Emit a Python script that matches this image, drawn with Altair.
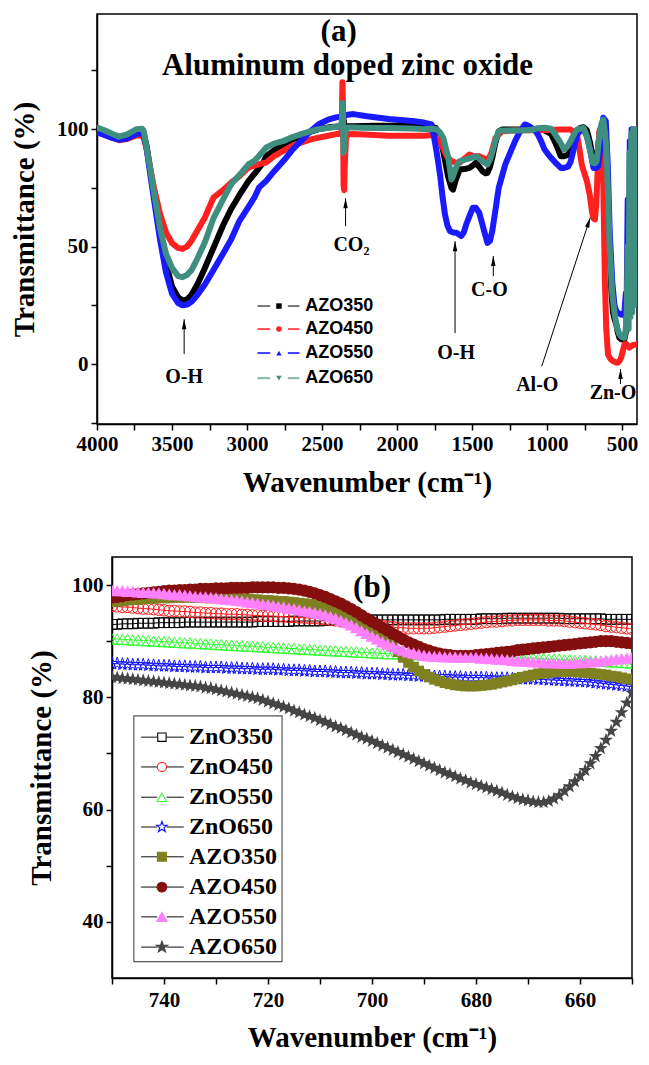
import altair as alt
import pandas as pd

SERIF = "Liberation Serif"
SANS = "Liberation Sans"

# ---------------- Panel (a): (wavenumber cm-1, transmittance %) ----------------
azo350_a = [(4000, 99.5), (3950, 98.5), (3900, 97.5), (3853, 96.5), (3800, 97.3), (3750, 98.5), (3710, 99.3),
            (3690, 98.5), (3670, 93), (3650, 85), (3620, 73), (3580, 57), (3540, 43), (3500, 33), (3460, 28.5),
            (3430, 27), (3400, 27.5), (3370, 29.5), (3330, 34), (3280, 41), (3220, 50), (3160, 59), (3106, 66),
            (3050, 72), (2989, 78), (2950, 81), (2919, 83.5), (2890, 86), (2872, 88.5), (2820, 91), (2755, 93.6),
            (2700, 95.5), (2639, 97.2), (2580, 98.8), (2522, 100), (2450, 100.8), (2380, 101.2), (2360, 101.5),
            (2355, 104), (2350, 101), (2345, 96), (2340, 100), (2330, 101.2), (2291, 101.2), (2150, 101.4),
            (2056, 101.4), (1900, 101.6), (1821, 101.8), (1770, 101), (1741, 100.5), (1715, 97), (1690, 90),
            (1660, 80), (1637, 75), (1626, 74.3), (1610, 78), (1582, 82.8), (1550, 83), (1517, 83.5), (1495, 84.5),
            (1474, 85.7), (1452, 84), (1430, 82.1), (1410, 81.2), (1397, 81.4), (1380, 84), (1365, 87.8), (1345, 94),
            (1322, 99), (1300, 99.8), (1200, 99.8), (1100, 99.8), (1061, 100.2), (1017, 99.5), (973, 98), (950, 95),
            (930, 92), (908, 88.5), (886, 88.5), (860, 89), (843, 91), (820, 95), (800, 99.5), (778, 100.5),
            (756, 100.8), (734, 99.5), (712, 94), (690, 86.4), (669, 86), (658, 93), (647, 99.1), (635, 101.5),
            (625, 102), (614, 99), (604, 90), (593, 70), (582, 49.4), (570, 30), (560, 22), (549, 19), (538, 16.9),
            (528, 13.5), (517, 11.2), (506, 10.6), (495, 10.5), (484, 10.5), (473, 14), (462, 21), (455, 45),
            (450, 26), (445, 52), (440, 30), (435, 58), (430, 35), (425, 62), (420, 40), (415, 60), (410, 38),
            (405, 55), (400, 42)]
azo450_a = [(4000, 99), (3950, 97.5), (3900, 96.5), (3853, 95.3), (3800, 95.8), (3750, 97), (3710, 97.5),
            (3690, 96.5), (3670, 92), (3650, 85), (3620, 75), (3580, 64), (3540, 56), (3500, 51.5), (3460, 49.5),
            (3430, 49), (3400, 50), (3370, 52.5), (3330, 57), (3280, 62.5), (3224, 70.8), (3160, 74), (3106, 77.2),
            (3050, 80), (2989, 83.7), (2950, 84.5), (2919, 85.1), (2872, 85.8), (2820, 88.5), (2755, 90.8),
            (2700, 92.8), (2639, 94.3), (2580, 95.5), (2522, 96.4), (2450, 97.3), (2406, 97.9), (2375, 98),
            (2368, 100), (2364, 120), (2360, 110), (2356, 76), (2352, 74), (2348, 85), (2340, 96), (2330, 97.8),
            (2291, 97.9), (2150, 97.5), (2056, 97.2), (1900, 97.2), (1821, 97.2), (1770, 97.5), (1735, 96.2),
            (1700, 93), (1669, 88.5), (1637, 86.4), (1610, 85.8), (1582, 85.7), (1550, 87.5), (1517, 89.2),
            (1490, 88.5), (1452, 88.5), (1420, 87.5), (1397, 86.4), (1370, 90), (1343, 96.2), (1300, 99.1),
            (1200, 99.5), (1100, 99.5), (1000, 99.6), (900, 99.8), (843, 99.8), (800, 97.7), (785, 92), (768, 84.9),
            (750, 81), (734, 77.9), (715, 72), (701, 65.2), (690, 62), (680, 61.6), (672, 68), (665, 77.9),
            (658, 92), (651, 99.1), (640, 100.5), (632, 99), (625, 77.9), (614, 35.4), (605, 15), (593, 4.1),
            (575, 2), (560, 1.3), (545, 0.8), (528, 0.6), (515, 1.5), (506, 2.7), (495, 5.5), (484, 8.4),
            (470, 8.5), (451, 7), (430, 8), (404, 8.4), (400, 8.5)]
azo550_a = [(4000, 98.6), (3950, 97.5), (3900, 96.3), (3853, 95.5), (3800, 96), (3736, 97.9), (3700, 98.2),
            (3689, 97.5), (3670, 92), (3650, 83), (3620, 70), (3580, 53), (3540, 39), (3500, 30), (3460, 26),
            (3430, 25), (3400, 25.3), (3370, 26.5), (3330, 29.5), (3280, 34), (3224, 40), (3160, 47), (3106, 53),
            (3050, 61), (2989, 67), (2950, 71), (2919, 75.2), (2872, 78), (2820, 82), (2755, 86.6), (2700, 91),
            (2639, 95), (2580, 99), (2522, 102.1), (2460, 104), (2406, 105), (2364, 105.5), (2340, 106),
            (2291, 106.4), (2200, 105.5), (2056, 104.3), (1900, 103.5), (1821, 102.8), (1770, 102), (1756, 97.7),
            (1735, 90), (1713, 80.6), (1696, 71), (1680, 63.6), (1664, 59), (1647, 56.6), (1625, 56), (1604, 55.9),
            (1572, 54.5), (1555, 56), (1539, 59.4), (1517, 63), (1495, 66.5), (1474, 66.5), (1452, 64.4),
            (1435, 60.5), (1419, 56.6), (1397, 51.6), (1380, 52.5), (1365, 56.6), (1345, 65), (1322, 75), (1300, 80),
            (1278, 85), (1245, 90), (1213, 94.9), (1180, 99), (1148, 102), (1126, 101.5), (1104, 100.6),
            (1080, 99.5), (1061, 97.7), (1040, 95), (1017, 91.4), (995, 89.5), (973, 87.8), (940, 85.5),
            (908, 83.5), (886, 83.5), (860, 84), (843, 86), (820, 92), (800, 97.5), (778, 99.5), (756, 99.8),
            (734, 97), (712, 91), (690, 83.5), (670, 83.5), (658, 84.2), (640, 95), (625, 104.8), (608, 103.4),
            (595, 85), (582, 56.5), (565, 35), (550, 25), (538, 22.5), (520, 21.5), (506, 21.1), (495, 21),
            (484, 22), (475, 30), (470, 18), (462, 70), (455, 20), (448, 95), (442, 25), (436, 100), (430, 30),
            (424, 100), (418, 40), (412, 98), (406, 45), (400, 96)]
azo650_a = [(4000, 100.7), (3950, 99.5), (3900, 98), (3853, 96.8), (3800, 97.8), (3736, 100), (3700, 100.2),
            (3689, 99.3), (3666, 90.8), (3650, 85), (3620, 73), (3580, 58), (3540, 47), (3500, 41), (3460, 37.5),
            (3430, 37), (3400, 38), (3370, 40), (3330, 45), (3280, 52), (3224, 62), (3160, 70), (3106, 76.5),
            (3050, 80.5), (2989, 85.1), (2950, 86.5), (2919, 88.7), (2872, 92.2), (2820, 93.8), (2755, 95),
            (2700, 96.5), (2639, 97.9), (2580, 99), (2522, 100), (2450, 100.6), (2406, 101), (2375, 101.2),
            (2368, 103), (2364, 111), (2360, 106), (2356, 90), (2352, 92), (2345, 99), (2330, 100.7), (2291, 100.7),
            (2150, 100.5), (2056, 100.5), (1900, 100.3), (1821, 100), (1770, 100.2), (1735, 100), (1713, 98.5),
            (1691, 96.2), (1675, 92), (1658, 87.8), (1637, 78.6), (1626, 80), (1615, 82.1), (1600, 84.5),
            (1582, 86.4), (1560, 86.8), (1539, 87.1), (1506, 87.8), (1474, 88.5), (1452, 87.5), (1430, 86.4),
            (1410, 85.5), (1397, 85), (1380, 87), (1365, 90), (1345, 95), (1322, 99.1), (1300, 99.4), (1200, 99.4),
            (1104, 99.6), (1061, 100.4), (1017, 100.6), (973, 100.2), (950, 98.2), (930, 96.2), (908, 94),
            (886, 91.3), (865, 92.5), (843, 94.9), (820, 97.8), (800, 99.8), (778, 100.2), (756, 100.5), (740, 98),
            (723, 94.2), (710, 90), (695, 85.7), (680, 85.5), (669, 86.4), (658, 93), (647, 99.1), (636, 102.5),
            (625, 104.1), (614, 99), (604, 92), (593, 72), (582, 49.4), (565, 30), (549, 21.1), (533, 15.5),
            (517, 12.6), (500, 11.5), (484, 11.2), (475, 15), (469, 21), (462, 50), (456, 15), (450, 90), (444, 20),
            (438, 98), (432, 22), (426, 100), (420, 25), (414, 100), (408, 30), (402, 98), (400, 60)]

a_names = ["AZO350", "AZO450", "AZO550", "AZO650"]
a_colors = ["#000000", "#FF2020", "#1A1AFF", "#3F8F80"]
a_leg_line_colors = ["#777777", "#FF5050", "#4040FF", "#7FB5AA"]
a_leg_shapes = ["square", "circle", "triangle-up", "triangle-down"]
# legend anchor positions (data units of panel a)
a_leg_rows_t = [24.7, 14.9, 4.7, -6.0]
a_leg_seg1 = (2930, 2845)
a_leg_seg2 = (2728, 2650)
a_leg_marker_w = 2787
a_leg_text_w = 2611

a_label_text = ["O-H", "CO₂", "O-H", "C-O", "Al-O", "Zn-O"]
a_label_w = [3419, 2304, 1606, 1384, 1065, 560]
a_label_t = [-5.5, 50.6, 4.7, 31.5, -9.0, -12.4]
a_arrow_w1 = [3419, 2343, 1613, 1358, 1035, 510]
a_arrow_t1 = [4.3, 58.7, 13.2, 37.4, -0.9, -8.5]
a_arrow_w2 = [3419, 2343, 1613, 1358, 712, 510]
a_arrow_t2 = [19.1, 70.6, 52.3, 46.0, 62.3, -2.1]
a_arrow_angle = [0, 0, 0, 0, 18, 0]
a_title_text = ["(a)", "Aluminum doped zinc oxide"]
a_title_w = [2389, 2330]
a_title_t = [141.2, 127.0]
a_x_ticks = [4000, 3750, 3500, 3250, 3000, 2750, 2500, 2250, 2000, 1750, 1500, 1250, 1000, 750, 500]
a_y_ticks = [-25, 0, 25, 50, 75, 100, 125]

# ---------------- Panel (b): 750 -> 650 cm-1, one value per cm-1 ----------------
b_wavenumber = list(range(750, 649, -1))
zno350_b = [93.0, 93.0, 93.1, 93.1, 93.1, 93.2, 93.2, 93.2, 93.2, 93.3, 93.3,
            93.3, 93.3, 93.3, 93.4, 93.4, 93.4, 93.4, 93.4, 93.4, 93.4,
            93.4, 93.4, 93.4, 93.4, 93.4, 93.4, 93.4, 93.5, 93.5, 93.5,
            93.5, 93.5, 93.5, 93.5, 93.6, 93.6, 93.6, 93.6, 93.6, 93.6,
            93.7, 93.7, 93.7, 93.7, 93.7, 93.7, 93.7, 93.7, 93.8, 93.8,
            93.8, 93.8, 93.8, 93.8, 93.8, 93.8, 93.8, 93.8, 93.8, 93.8,
            93.8, 93.8, 93.8, 93.9, 93.9, 93.9, 93.9, 93.9, 93.9, 93.9,
            94.0, 94.0, 94.0, 94.0, 94.0, 94.1, 94.1, 94.1, 94.1, 94.1,
            94.1, 94.1, 94.1, 94.1, 94.1, 94.1, 94.0, 94.0, 94.0, 94.0,
            94.0, 94.0, 94.0, 94.0, 93.9, 93.9, 93.9, 93.9, 93.9, 93.9]
zno450_b = [96.3, 96.2, 96.1, 96.1, 96.0, 95.9, 95.8, 95.8, 95.7, 95.6, 95.5,
            95.4, 95.4, 95.3, 95.3, 95.2, 95.1, 95.1, 95.0, 95.0, 94.9,
            94.9, 94.8, 94.8, 94.8, 94.7, 94.7, 94.6, 94.6, 94.5, 94.5,
            94.5, 94.4, 94.4, 94.3, 94.3, 94.2, 94.2, 94.1, 94.1, 94.0,
            93.9, 93.8, 93.7, 93.6, 93.5, 93.4, 93.3, 93.2, 93.0, 92.9,
            92.8, 92.7, 92.6, 92.5, 92.4, 92.4, 92.3, 92.3, 92.3, 92.3,
            92.3, 92.4, 92.5, 92.6, 92.7, 92.8, 92.9, 93.0, 93.1, 93.2,
            93.3, 93.4, 93.5, 93.5, 93.6, 93.7, 93.7, 93.8, 93.8, 93.8,
            93.8, 93.8, 93.8, 93.7, 93.7, 93.7, 93.6, 93.5, 93.4, 93.3,
            93.2, 93.1, 93.0, 92.9, 92.7, 92.6, 92.5, 92.4, 92.3, 92.2]
zno550_b = [90.4, 90.4, 90.3, 90.3, 90.2, 90.2, 90.1, 90.1, 90.0, 90.0, 89.9,
            89.9, 89.8, 89.8, 89.7, 89.7, 89.6, 89.6, 89.5, 89.5, 89.4,
            89.4, 89.3, 89.3, 89.2, 89.2, 89.1, 89.1, 89.0, 89.0, 88.9,
            88.9, 88.8, 88.8, 88.7, 88.7, 88.6, 88.6, 88.5, 88.5, 88.4,
            88.4, 88.3, 88.3, 88.2, 88.2, 88.1, 88.1, 88.0, 88.0, 87.9,
            87.9, 87.8, 87.8, 87.8, 87.7, 87.7, 87.7, 87.6, 87.6, 87.6,
            87.6, 87.5, 87.5, 87.5, 87.5, 87.4, 87.4, 87.4, 87.4, 87.3,
            87.3, 87.3, 87.2, 87.2, 87.2, 87.1, 87.1, 87.1, 87.0, 87.0,
            87.0, 86.9, 86.9, 86.8, 86.8, 86.8, 86.7, 86.7, 86.6, 86.6,
            86.6, 86.5, 86.5, 86.4, 86.4, 86.3, 86.3, 86.2, 86.2, 86.1]
zno650_b = [86.0, 86.0, 85.9, 85.9, 85.8, 85.8, 85.8, 85.7, 85.7, 85.6, 85.6,
            85.6, 85.5, 85.5, 85.5, 85.4, 85.4, 85.4, 85.3, 85.3, 85.3,
            85.3, 85.2, 85.2, 85.2, 85.1, 85.1, 85.1, 85.0, 85.0, 85.0,
            85.0, 84.9, 84.9, 84.8, 84.8, 84.8, 84.7, 84.7, 84.6, 84.6,
            84.6, 84.5, 84.5, 84.4, 84.4, 84.4, 84.3, 84.3, 84.2, 84.2,
            84.2, 84.1, 84.1, 84.0, 84.0, 84.0, 83.9, 83.9, 83.8, 83.8,
            83.8, 83.7, 83.7, 83.7, 83.6, 83.6, 83.6, 83.5, 83.5, 83.5,
            83.5, 83.5, 83.4, 83.4, 83.4, 83.4, 83.3, 83.3, 83.3, 83.3,
            83.3, 83.2, 83.2, 83.1, 83.1, 83.0, 83.0, 82.9, 82.9, 82.8,
            82.8, 82.7, 82.6, 82.5, 82.4, 82.3, 82.2, 82.1, 82.0, 81.9]
azo350_b = [97.0, 97.1, 97.2, 97.3, 97.4, 97.4, 97.5, 97.6, 97.6, 97.7, 97.7,
            97.7, 97.8, 97.8, 97.8, 97.8, 97.8, 97.8, 97.7, 97.7, 97.7,
            97.7, 97.6, 97.6, 97.6, 97.5, 97.5, 97.4, 97.4, 97.3, 97.3,
            97.2, 97.1, 97.1, 97.0, 96.9, 96.8, 96.7, 96.6, 96.4, 96.2,
            96.0, 95.7, 95.4, 95.0, 94.6, 94.1, 93.6, 93.1, 92.6, 92.1,
            91.5, 90.8, 90.0, 89.1, 88.1, 87.1, 86.2, 85.4, 84.7, 84.1,
            83.6, 83.2, 82.9, 82.6, 82.4, 82.2, 82.1, 82.0, 82.0, 82.0,
            82.1, 82.2, 82.3, 82.5, 82.7, 82.9, 83.1, 83.4, 83.6, 83.8,
            84.0, 84.2, 84.3, 84.4, 84.5, 84.6, 84.6, 84.6, 84.6, 84.5,
            84.4, 84.3, 84.2, 84.1, 84.0, 83.8, 83.7, 83.5, 83.3, 83.2]
azo450_b = [97.8, 97.9, 98.0, 98.2, 98.3, 98.4, 98.5, 98.6, 98.7, 98.8, 98.9,
            99.0, 99.0, 99.1, 99.1, 99.2, 99.2, 99.3, 99.3, 99.3, 99.4,
            99.4, 99.4, 99.5, 99.5, 99.5, 99.5, 99.6, 99.6, 99.6, 99.6,
            99.6, 99.5, 99.5, 99.4, 99.3, 99.2, 99.0, 98.8, 98.5, 98.2,
            97.9, 97.5, 97.1, 96.7, 96.2, 95.7, 95.2, 94.6, 94.0, 93.5,
            93.0, 92.4, 91.9, 91.3, 90.8, 90.3, 89.8, 89.4, 89.0, 88.6,
            88.3, 88.0, 87.8, 87.6, 87.5, 87.4, 87.4, 87.4, 87.4, 87.5,
            87.6, 87.7, 87.8, 87.9, 88.0, 88.1, 88.2, 88.4, 88.5, 88.6,
            88.7, 88.8, 88.9, 89.0, 89.1, 89.2, 89.3, 89.4, 89.5, 89.6,
            89.7, 89.8, 89.9, 90.0, 90.0, 90.0, 89.9, 89.8, 89.7, 89.6]
azo550_b = [99.1, 99.0, 99.0, 98.9, 98.9, 98.8, 98.7, 98.7, 98.6, 98.6, 98.5,
            98.4, 98.3, 98.3, 98.2, 98.1, 98.0, 97.9, 97.9, 97.8, 97.7,
            97.6, 97.5, 97.4, 97.3, 97.2, 97.0, 96.9, 96.8, 96.6, 96.5,
            96.4, 96.2, 96.1, 95.9, 95.8, 95.6, 95.4, 95.3, 95.1, 94.9,
            94.7, 94.4, 94.1, 93.7, 93.3, 92.9, 92.4, 91.9, 91.4, 90.9,
            90.4, 89.9, 89.5, 89.1, 88.7, 88.4, 88.1, 87.9, 87.7, 87.5,
            87.4, 87.3, 87.3, 87.2, 87.2, 87.2, 87.1, 87.1, 87.1, 87.1,
            87.0, 87.0, 86.9, 86.8, 86.8, 86.7, 86.6, 86.5, 86.5, 86.4,
            86.3, 86.3, 86.2, 86.2, 86.2, 86.1, 86.1, 86.1, 86.2, 86.2,
            86.3, 86.3, 86.4, 86.5, 86.6, 86.7, 86.8, 86.9, 87.0, 87.1]
azo650_b = [83.6, 83.5, 83.4, 83.3, 83.2, 83.1, 83.0, 82.9, 82.8, 82.7, 82.6,
            82.5, 82.4, 82.3, 82.2, 82.1, 82.0, 81.9, 81.7, 81.6, 81.4,
            81.2, 81.0, 80.8, 80.6, 80.4, 80.2, 80.0, 79.8, 79.5, 79.2,
            78.9, 78.6, 78.3, 78.0, 77.6, 77.3, 76.9, 76.6, 76.3, 75.9,
            75.6, 75.2, 74.8, 74.5, 74.1, 73.7, 73.3, 72.9, 72.6, 72.2,
            71.8, 71.4, 71.0, 70.6, 70.2, 69.8, 69.4, 69.0, 68.6, 68.2,
            67.8, 67.4, 67.0, 66.6, 66.3, 65.9, 65.5, 65.2, 64.8, 64.5,
            64.2, 63.9, 63.6, 63.3, 63.0, 62.6, 62.3, 62.0, 61.8, 61.6,
            61.4, 61.3, 61.3, 61.5, 61.9, 62.5, 63.3, 64.1, 65.0, 66.0,
            67.0, 68.2, 69.5, 70.9, 72.4, 74.0, 75.6, 77.3, 79.0, 80.8]

# five-pointed star as an SVG path (Vega has no built-in star symbol)
STAR = "M0,-1.15L0.27,-0.37L1.09,-0.36L0.44,0.14L0.68,0.93L0,0.46L-0.68,0.93L-0.44,0.14L-1.09,-0.36L-0.27,-0.37Z"
HEAD = "M0,0L-0.9,4L0.9,4Z"

b_names = ["ZnO350", "ZnO450", "ZnO550", "ZnO650", "AZO350", "AZO450", "AZO550", "AZO650"]
b_values = [zno350_b, zno450_b, zno550_b, zno650_b, azo350_b, azo450_b, azo550_b, azo650_b]
b_colors = ["#000000", "#FF2020", "#33FF33", "#1010FF", "#7F8020", "#850F0F", "#FF80FF", "#454545"]
b_shapes = ["square", "circle", "triangle-up", STAR, "square", "circle", "triangle-up", STAR]
b_filled = [False, False, False, False, True, True, True, True]
b_sizes = [95, 130, 140, 130, 110, 150, 170, 160]
b_leg_sizes = [70, 85, 95, 95, 80, 95, 110, 110]
b_x_ticks = [750, 740, 730, 720, 710, 700, 690, 680, 670, 660, 650]
b_y_ticks = [40, 50, 60, 70, 80, 90, 100]
# legend anchor positions (data units of panel b)
b_leg_box = (745.8, 717.3, 76.7, 32.9)
b_leg_rows_t = [72.9, 67.6, 62.2, 56.9, 51.6, 46.2, 40.9, 35.5]
b_leg_seg1 = (744.4, 741.3)
b_leg_seg2 = (739.5, 736.2)
b_leg_marker_w = 740.4
b_leg_text_w = 735.2

# ---------------- panel (a) ----------------
xa = alt.Scale(domain=[400, 4000], reverse=True, nice=False, zero=False)
ya = alt.Scale(domain=[-25.5, 149], nice=False, zero=False)
ax_xa = alt.Axis(title="Wavenumber (cm⁻¹)", values=a_x_ticks, format="d", tickSize=6,
                 labelExpr="datum.value % 500 === 0 ? datum.label : ''",
                 labelPadding=3, titlePadding=14)
ax_ya = alt.Axis(title="Transmittance (%)", values=a_y_ticks, format="d", tickSize=6,
                 labelExpr="datum.value % 50 === 0 ? datum.label : ''",
                 labelPadding=3, titlePadding=17)


def XA(f):
    return alt.X(f, scale=xa, axis=ax_xa)


def YA(f):
    return alt.Y(f, scale=ya, axis=ax_ya)


layers_a = []
for pairs, col in zip([azo350_a, azo450_a, azo550_a, azo650_a], a_colors):
    df = pd.DataFrame(pairs, columns=["w", "T"])
    df["i"] = range(len(df))
    layers_a.append(
        alt.Chart(df).mark_line(color=col, strokeWidth=6, strokeJoin="round", strokeCap="round", clip=True)
        .encode(x=XA("w:Q"), y=YA("T:Q"), order="i:Q"))

arr_df = pd.DataFrame({"w1": a_arrow_w1, "t1": a_arrow_t1, "w2": a_arrow_w2, "t2": a_arrow_t2,
                       "ang": a_arrow_angle})
layers_a.append(alt.Chart(arr_df).mark_rule(color="black", strokeWidth=1)
                .encode(x=XA("w1:Q"), y=YA("t1:Q"), x2="w2:Q", y2="t2:Q"))
layers_a.append(alt.Chart(arr_df).mark_point(shape=HEAD, filled=True, size=25, color="black", opacity=1)
                .encode(x=XA("w2:Q"), y=YA("t2:Q"), angle=alt.Angle("ang:Q", scale=None)))
lab_df = pd.DataFrame({"w": a_label_w, "T": a_label_t, "text": a_label_text})
layers_a.append(alt.Chart(lab_df).mark_text(font=SERIF, fontWeight="bold", fontSize=20, color="black")
                .encode(x=XA("w:Q"), y=YA("T:Q"), text="text:N"))
tit_df = pd.DataFrame({"w": a_title_w, "T": a_title_t, "text": a_title_text})
layers_a.append(alt.Chart(tit_df).mark_text(font=SERIF, fontWeight="bold", fontSize=31, color="black")
                .encode(x=XA("w:Q"), y=YA("T:Q"), text="text:N"))

# legend of panel (a), drawn as marks
seg_rows = []
for t, c in zip(a_leg_rows_t, a_leg_line_colors):
    seg_rows.append({"w1": a_leg_seg1[0], "w2": a_leg_seg1[1], "T": t, "c": c})
    seg_rows.append({"w1": a_leg_seg2[0], "w2": a_leg_seg2[1], "T": t, "c": c})
la_seg = pd.DataFrame(seg_rows)
layers_a.append(alt.Chart(la_seg).mark_rule(strokeWidth=2)
                .encode(x=XA("w1:Q"), x2="w2:Q", y=YA("T:Q"), color=alt.Color("c:N", scale=None)))
la_mk = pd.DataFrame({"w": [a_leg_marker_w] * 4, "T": a_leg_rows_t, "c": a_colors, "s": a_leg_shapes})
layers_a.append(alt.Chart(la_mk).mark_point(filled=True, size=30, opacity=1)
                .encode(x=XA("w:Q"), y=YA("T:Q"), color=alt.Color("c:N", scale=None),
                        shape=alt.Shape("s:N", scale=None)))
la_tx = pd.DataFrame({"w": [a_leg_text_w] * 4, "T": a_leg_rows_t, "name": a_names})
layers_a.append(alt.Chart(la_tx).mark_text(font=SANS, fontWeight="bold", fontSize=18, color="black",
                                           align="left", baseline="middle")
                .encode(x=XA("w:Q"), y=YA("T:Q"), text="name:N"))

chart_a = alt.layer(*layers_a).properties(width=540, height=410)

# ---------------- panel (b) ----------------
xb = alt.Scale(domain=[650, 750], reverse=True, nice=False, zero=False)
yb = alt.Scale(domain=[30, 105], nice=False, zero=False)
ax_xb = alt.Axis(title="Wavenumber (cm⁻¹)", values=b_x_ticks, format="d", tickSize=6,
                 labelExpr="datum.value % 20 === 0 ? datum.label : ''",
                 labelPadding=5, titlePadding=13)
ax_yb = alt.Axis(title="Transmittance (%)", values=b_y_ticks, format="d", tickSize=6,
                 labelExpr="datum.value % 20 === 0 ? datum.label : ''",
                 labelPadding=3, titlePadding=15)


def XB(f):
    return alt.X(f, scale=xb, axis=ax_xb)


def YB(f):
    return alt.Y(f, scale=yb, axis=ax_yb)


layers_b = []
for vals, col, shp, fil, sz in zip(b_values, b_colors, b_shapes, b_filled, b_sizes):
    df = pd.DataFrame({"w": b_wavenumber, "T": vals})
    base = alt.Chart(df).encode(x=XB("w:Q"), y=YB("T:Q"))
    layers_b.append(base.mark_line(color=col, strokeWidth=1, clip=True))
    layers_b.append(base.mark_point(shape=shp, filled=fil, size=sz, color=col, opacity=1,
                                    strokeWidth=1, clip=True))

btit_df = pd.DataFrame({"w": [700], "T": [99.5], "text": ["(b)"]})
layers_b.append(alt.Chart(btit_df).mark_text(font=SERIF, fontWeight="bold", fontSize=31, color="black")
                .encode(x=XB("w:Q"), y=YB("T:Q"), text="text:N"))

# legend of panel (b), drawn as marks
box_df = pd.DataFrame({"w1": [b_leg_box[0]], "w2": [b_leg_box[1]], "t1": [b_leg_box[2]], "t2": [b_leg_box[3]]})
layers_b.append(alt.Chart(box_df).mark_rect(fill="white", stroke="#555555", strokeWidth=1.2)
                .encode(x=XB("w1:Q"), x2="w2:Q", y=YB("t1:Q"), y2="t2:Q"))
seg_rows = []
for t in b_leg_rows_t:
    seg_rows.append({"w1": b_leg_seg1[0], "w2": b_leg_seg1[1], "T": t})
    seg_rows.append({"w1": b_leg_seg2[0], "w2": b_leg_seg2[1], "T": t})
lb_seg = pd.DataFrame(seg_rows)
layers_b.append(alt.Chart(lb_seg).mark_rule(strokeWidth=1.3, color="#444444")
                .encode(x=XB("w1:Q"), x2="w2:Q", y=YB("T:Q")))
lb_mk = pd.DataFrame({"w": [b_leg_marker_w] * 8, "T": b_leg_rows_t, "c": b_colors, "s": b_shapes,
                      "f": [c if f else "white" for c, f in zip(b_colors, b_filled)],
                      "z": b_leg_sizes})
layers_b.append(alt.Chart(lb_mk).mark_point(opacity=1, strokeWidth=1.1)
                .encode(x=XB("w:Q"), y=YB("T:Q"), stroke=alt.Stroke("c:N", scale=None),
                        fill=alt.Fill("f:N", scale=None), shape=alt.Shape("s:N", scale=None),
                        size=alt.Size("z:Q", scale=None)))
lb_tx = pd.DataFrame({"w": [b_leg_text_w] * 8, "T": b_leg_rows_t, "name": b_names})
layers_b.append(alt.Chart(lb_tx).mark_text(font=SERIF, fontWeight="bold", fontSize=24, color="black",
                                           align="left", baseline="middle")
                .encode(x=XB("w:Q"), y=YB("T:Q"), text="name:N"))

chart_b = alt.layer(*layers_b).properties(width=520, height=421)

# invisible spacer that shifts panel (b) to the right of panel (a)'s left edge
spacer = (alt.Chart(pd.DataFrame({"v": [0]})).mark_point(opacity=0, size=1)
          .encode(x=alt.value(1), y=alt.value(1))
          .properties(width=15, height=20, view=alt.ViewBackground(strokeOpacity=0)))
row_b = alt.hconcat(spacer, chart_b, spacing=0, bounds="flush")

chart = (alt.vconcat(chart_a, row_b, spacing=133, bounds="flush")
         .properties(padding={"left": 1, "top": 5, "right": 0, "bottom": 0})
         .configure_view(stroke="black", strokeWidth=1.5)
         .configure_axis(labelFont=SERIF, labelFontWeight="bold", labelFontSize=21, labelColor="black",
                         titleFont=SERIF, titleFontWeight="bold", titleFontSize=29, titleColor="black",
                         domainColor="black", domainWidth=1.5, tickColor="black", tickWidth=1.5,
                         grid=False, labelFlush=False, labelOverlap=False))

chart.save("out.html", embed_options={"renderer": "svg", "actions": False})
